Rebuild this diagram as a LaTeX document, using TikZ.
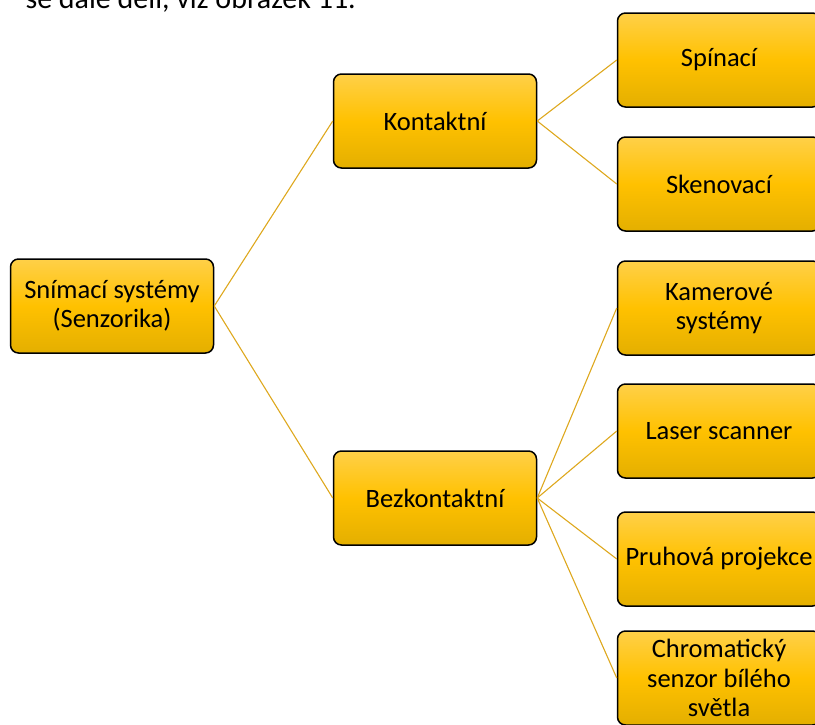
\documentclass[tikz,border=0pt]{standalone}
\usepackage{fontspec}
\setmainfont{Carlito}
\definecolor{boxtop}{RGB}{255,208,72}
\definecolor{boxmid}{RGB}{255,193,0}
\definecolor{boxbot}{RGB}{228,175,0}
\definecolor{linkcol}{RGB}{222,168,30}
\tikzset{
  box/.style={draw=black, line width=1.5pt, rounded corners=8pt,
    top color=boxtop, bottom color=boxbot, middle color=boxmid,
    minimum width=203pt, minimum height=94pt, inner sep=0pt,
    align=center, font=\fontsize{26.5}{29.5}\selectfont},
  link/.style={draw=linkcol, line width=1.1pt}
}
\begin{document}
\begin{tikzpicture}[x=1pt, y=-1pt]
  \useasboundingbox (0,0) rectangle (815,724);

  % tail of the sentence above the figure
  \node[anchor=base east, inner sep=0pt, font=\fontsize{30}{36}\selectfont] (intro)
    at (356,8) {se dále dělí, viz obrázek 11.};

  % connectors first, so boxes sit on top
  \coordinate (rootE) at (214,306);

  \node[box] (root) at (112,306) {Snímací systémy\\(Senzorika)};
  \node[box] (k) at (435,121) {Kontaktní};
  \node[box] (b) at (435,498) {Bezkontaktní};

  \node[box] (s1) at (719,60)  {Spínací};
  \node[box] (s2) at (719,184) {Skenovací};
  \node[box] (s3) at (719,308) {Kamerové\\systémy};
  \node[box] (s4) at (719,431) {Laser scanner};
  \node[box] (s5) at (719,559) {Pruhová projekce};
  \node[box] (s6) at (719,678) {Chromatický\\senzor bílého\\světla};

  \draw[link] (root.east) -- (k.west);
  \draw[link] (root.east) -- (b.west);
  \draw[link] (k.east) -- (s1.west);
  \draw[link] (k.east) -- (s2.west);
  \draw[link] (b.east) -- (s3.west);
  \draw[link] (b.east) -- (s4.west);
  \draw[link] (b.east) -- (s5.west);
  \draw[link] (b.east) -- (s6.west);
\end{tikzpicture}
\end{document}
